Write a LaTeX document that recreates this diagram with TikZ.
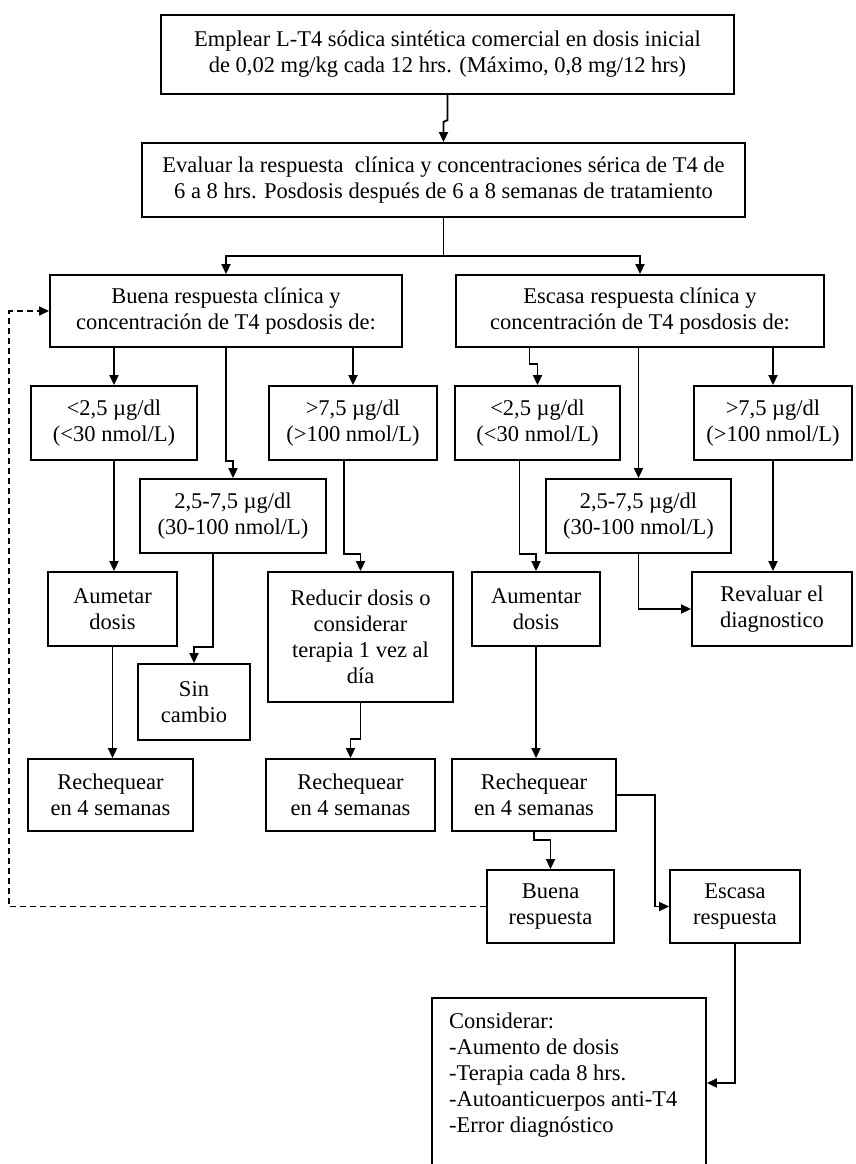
\documentclass[tikz,border=0pt]{standalone}
\usepackage{fontspec}
\setmainfont{Liberation Serif}
\usetikzlibrary{arrows.meta,calc}
\begin{document}
\begin{tikzpicture}[x=1pt,y=-1pt,
  box/.style={draw=black, line width=1.9pt, align=center, inner sep=0pt,
    font=\fontsize{22.5}{26}\selectfont},
  arr/.style={line width=1.9pt, -{Triangle[length=10pt,width=9pt]}},
  ln/.style={line width=1.9pt},
  dsh/.style={line width=1.4pt, dash pattern=on 6pt off 4pt, -{Triangle[length=10pt,width=9pt]}}]
\useasboundingbox[fill=white] (0,0) rectangle (855,1164);

\node[box, minimum width=573pt, minimum height=79pt] (top) at (447.5,54.5)
  {Emplear L-T4 sódica sintética comercial en dosis inicial\\de 0,02 mg/kg cada 12 hrs. (Máximo, 0,8 mg/12 hrs)};
\node[box, minimum width=603pt, minimum height=74pt] (eval) at (443.5,180)
  {Evaluar la respuesta~ clínica y concentraciones sérica de T4 de\\6 a 8 hrs. Posdosis después de 6 a 8 semanas de tratamiento};
\node[box, minimum width=352pt, minimum height=72pt] (buena) at (226,311)
  {Buena respuesta clínica y\\concentración de T4 posdosis de:};
\node[box, minimum width=368pt, minimum height=72pt] (escasa) at (640,311)
  {Escasa respuesta clínica y\\concentración de T4 posdosis de:};

\node[box, minimum width=166pt, minimum height=74pt] (lta) at (114,423)
  {<2,5 µg/dl\\(<30 nmol/L)};
\node[box, minimum width=168pt, minimum height=74pt] (gta) at (353,423)
  {>7,5 µg/dl\\(>100 nmol/L)};
\node[box, minimum width=165pt, minimum height=74pt] (ltb) at (537.5,423)
  {<2,5 µg/dl\\(<30 nmol/L)};
\node[box, minimum width=158pt, minimum height=74pt] (gtb) at (773,423)
  {>7,5 µg/dl\\(>100 nmol/L)};

\node[box, minimum width=186pt, minimum height=74pt] (mida) at (233,516)
  {2,5-7,5 µg/dl\\(30-100 nmol/L)};
\node[box, minimum width=185pt, minimum height=74pt] (midb) at (638.5,516)
  {2,5-7,5 µg/dl\\(30-100 nmol/L)};

\node[box, minimum width=129pt, minimum height=74pt] (auma) at (112.5,609)
  {Aumetar\\dosis};
\node[box, minimum width=185pt, minimum height=130pt] (red) at (360.5,637)
  {Reducir dosis o\\considerar\\terapia 1 vez al\\día};
\node[box, minimum width=128pt, minimum height=74pt] (aumb) at (536,609)
  {Aumentar\\dosis};
\node[box, minimum width=160pt, minimum height=74pt] (rev) at (772,609)
  {Revaluar el\\diagnostico};
\node[box, minimum width=112pt, minimum height=76pt] (sin) at (194,702)
  {Sin\\cambio};

\node[box, minimum width=165pt, minimum height=72pt] (rcha) at (110.5,795)
  {Rechequear\\en 4 semanas};
\node[box, minimum width=169pt, minimum height=72pt] (rchb) at (350.5,795)
  {Rechequear\\en 4 semanas};
\node[box, minimum width=164pt, minimum height=72pt] (rchc) at (534,795)
  {Rechequear\\en 4 semanas};

\node[box, minimum width=127pt, minimum height=73pt] (bres) at (550.5,906.5)
  {Buena\\respuesta};
\node[box, minimum width=130pt, minimum height=73pt] (eres) at (735,906.5)
  {Escasa\\respuesta};

\node[box, minimum width=274pt, minimum height=170pt] (cons) at (569,1083) {};
\node[anchor=north west, align=left, inner sep=0pt,
  font=\fontsize{22.5}{26}\selectfont] (constext) at (449,1013)
  {Considerar:\\-Aumento de dosis\\-Terapia cada 8 hrs.\\-Autoanticuerpos anti-T4\\-Error diagnóstico};

% connectors
\draw[arr] (top.south) -- ++(0,25) -- ++(-4,2) -- (eval.north);
\draw[ln] (eval.south) -- ++(0,38) coordinate (split);
\draw[arr] (split) -| (buena.north);
\draw[arr] (split) -| (escasa.north);

\draw[arr] (buena.south -| lta.north) -- (lta.north);
\draw[arr] (buena.south) -- (buena.south |- lta.south) -| (mida.north);
\draw[arr] (buena.south -| gta.north) -- (gta.north);

\draw[arr] ([xshift=-8pt]escasa.south -| ltb.north) -- ++(0,16) -| (ltb.north);
\draw[arr] (escasa.south -| midb.north) -- (midb.north);
\draw[arr] (escasa.south -| gtb.north) -- (gtb.north);

\draw[arr] (lta.south) -- (lta.south |- auma.north);
\draw[arr] ([xshift=-9pt]gta.south) -- ([xshift=-9pt]gta.south |- mida.south) -| (red.north);
\draw[arr] ([xshift=-20pt]mida.south) -- ([xshift=-20pt]mida.south |- auma.south) -| (sin.north);
\draw[arr] (auma.south) -- (auma.south |- rcha.north);
\draw[arr] (red.south) -- ++(0,36) -| (rchb.north);

\draw[arr] ([xshift=-18pt]ltb.south) -- ([xshift=-18pt]ltb.south |- midb.south) -| (aumb.north);
\draw[arr] (midb.south) |- (rev.west);
\draw[arr] (gtb.south) -- (gtb.south |- rev.north);
\draw[arr] (aumb.south) -- (aumb.south |- rchc.north);

\draw[arr] (rchc.south) -- ++(0,8) -| (bres.north);
\draw[arr] (rchc.east) -- ++(38,0) |- (eres.west);
\draw[arr] (eres.south) |- (cons.east);

\draw[dsh] (bres.west) -| ([xshift=-40pt]buena.west) -- (buena.west);
\end{tikzpicture}
\end{document}
